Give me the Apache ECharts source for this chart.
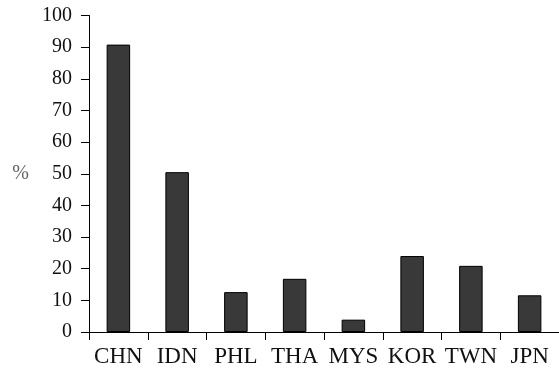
<!DOCTYPE html>
<html>
<head>
<meta charset="utf-8">
<script src="https://cdn.jsdelivr.net/npm/echarts@6/dist/echarts.min.js"></script>
<style>html,body{margin:0;padding:0;background:#fff}#c{width:559px;height:368px}</style>
</head>
<body>
<div id="c"></div>
<script>
var categories = ['CHN', 'IDN', 'PHL', 'THA', 'MYS', 'KOR', 'TWN', 'JPN'];
var values = [90.8, 50.5, 12.6, 16.8, 3.9, 24.0, 20.9, 11.6];
var yMin = 0, yMax = 100, yStep = 10;

var chart = echarts.init(document.getElementById('c'), null, {renderer: 'canvas'});
var font = 'Liberation Serif';
chart.setOption({
  animation: false,
  grid: {left: 89, top: 15.5, bottom: 35.5, right: -6, containLabel: false},
  xAxis: {
    type: 'category',
    data: categories,
    axisLine: {lineStyle: {color: '#000', width: 1}},
    axisTick: {show: true, length: 8, lineStyle: {color: '#000'}},
    axisLabel: {color: '#111', fontFamily: font, fontSize: 23, margin: 13, interval: 0}
  },
  yAxis: {
    type: 'value',
    min: yMin, max: yMax, interval: yStep,
    name: '%',
    nameLocation: 'middle',
    nameRotate: 0,
    nameGap: 60,
    nameTextStyle: {color: '#666', fontFamily: font, fontSize: 20},
    axisLine: {show: true, lineStyle: {color: '#000', width: 1}},
    axisTick: {show: true, length: 8, lineStyle: {color: '#000'}},
    axisLabel: {color: '#111', fontFamily: font, fontSize: 20, margin: 17},
    splitLine: {show: false}
  },
  series: [{
    type: 'bar',
    data: values,
    barWidth: '40%',
    itemStyle: {color: '#393939', borderColor: '#000', borderWidth: 1}
  }]
});
</script>
</body>
</html>
